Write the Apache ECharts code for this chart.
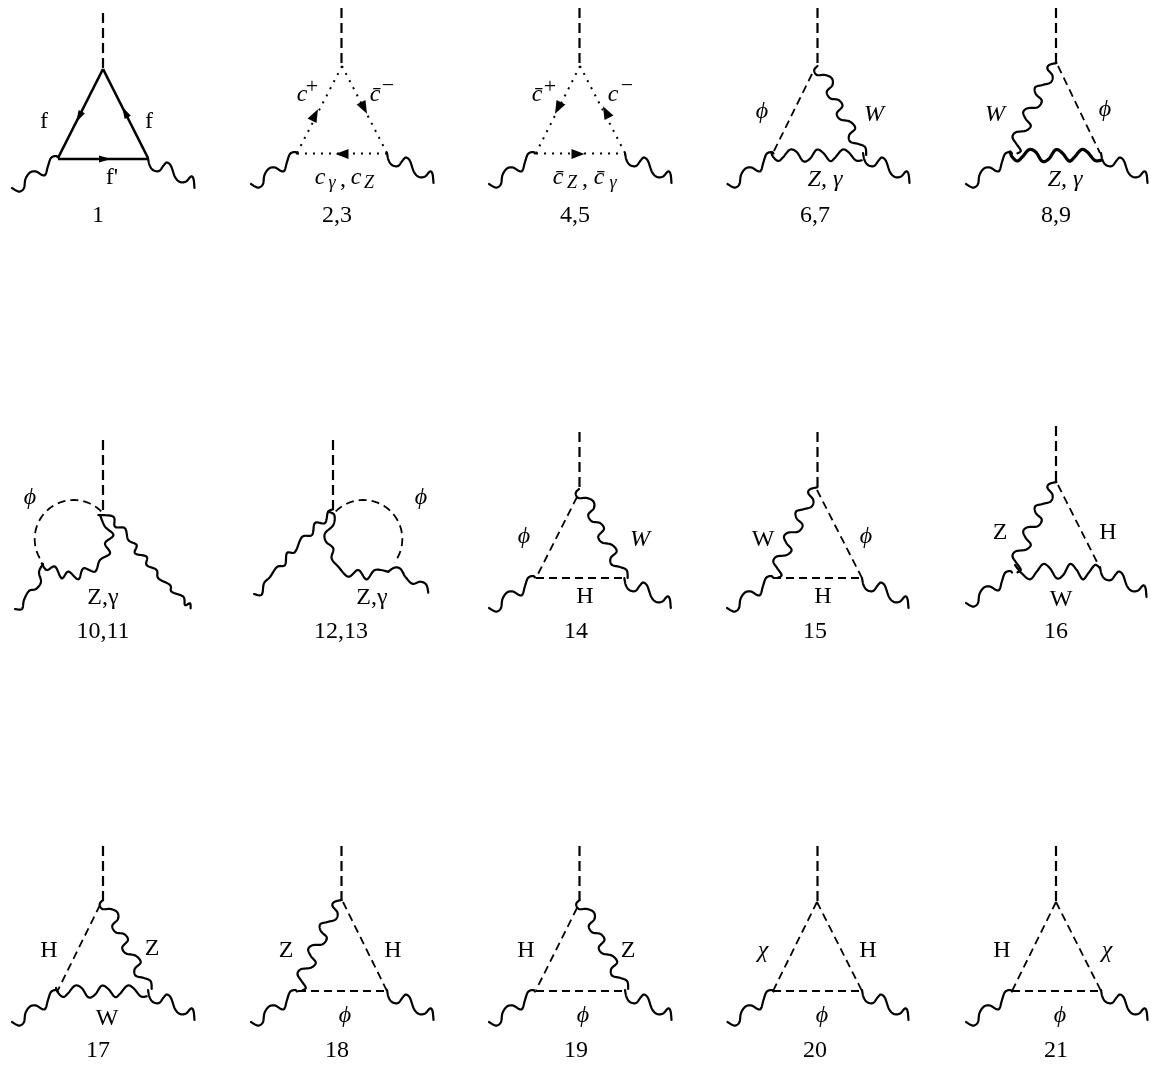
<!DOCTYPE html>
<html><head><meta charset="utf-8">
<style>html,body{margin:0;padding:0;background:#fff}#c{width:1151px;height:1067px}</style>
<script src="https://cdn.jsdelivr.net/npm/echarts@6/dist/echarts.min.js"></script>
</head><body><div id="c"></div>
<script>
// Every list is in the picture's own coordinates: x 0..1151, y 0..1067 downward
const scalarLegs = [[103,13,103,68],[341.5,8,341.5,64],[579.5,8,579.5,64],[817.5,8,817.5,64],[1056,8,1056,64],
  [103,440,103,512],[333,440,333,512],[579.5,432,579.5,489],[817.5,432,817.5,489],[1056,426,1056,483],
  [103,846,103,901],[341.5,846,341.5,901],[579.5,846,579.5,901],[817.5,846,817.5,901],[1056,846,1056,901]];
const solidLines = [[103,69,58,158],[103,69,148,158],[58,159,148,159]];
const dottedLines = [[342,66,297,153],[342,66,387,153],[297,153.5,387,153.5],[580,66,536,153],[580,66,625,153],[536,153.5,625,153.5]];
const dashedLines = [[812,74,773,153],[1058,66,1100,153],
  [577,497,536,578],[536,578,625,578],[817,490,862,578],[773,578,862,578],[1058,485,1097,562],
  [100,905,58,990],[343,902,387,991],[298,991,387,991],[577,908,536,990],[536,991,625,991],
  [817,902,773,991],[817,902,862,991],[773,991,862,991],[1056,902,1012,991],[1056,902,1101,991],[1012,991,1101,991]];

// Photon outlines, relative to where each one starts
const leftLegShape = [[0,0],[4,2.5],[8,3.5],[12,0],[13.5,-9],[18,-15.5],[24,-16.5],[30,-13],[33.5,-13.5],[36,-22],[39,-30],[44,-32],[46,-30.5]];
const rightLegShape = [[0,0],[1.5,7],[5,12],[11,13],[16,7],[19,4.5],[23,8],[27,19],[32,24],[38,23.5],[43,18.5],[45.5,21],[46.5,30]];
const apexRightShape = [[0,0],[-3.3,4],[-.7,9],[7.7,9],[14.3,12.3],[15,19],[9.3,25.7],[12.7,32.3],[21,34],[25,40],[19.3,47.3],[22.7,53.3],[32.7,55.7],[37.7,62.3],[31.7,69],[32.7,75.7],[41,78],[47.7,81.3],[48.7,89]];
const apexLeftShape = [[0,0],[-7.3,2],[-9,6],[-4,12.7],[-5.7,19.3],[-14,22],[-21.3,24.3],[-20.7,31],[-14.7,37.7],[-19,44.3],[-29,45.3],[-33.3,49.3],[-30.7,56],[-25.7,62.7],[-30.7,67.7],[-40.7,69.3],[-44,74.3],[-40,81],[-35.7,87.7],[-39,90.3]];
const bottomShape = [[0,0],[2.3,5],[7.3,9],[12.3,5],[19,-2.3],[25.7,0],[32.3,9.3],[39,6.7],[45.7,-2.3],[52.3,1],[59,9],[64,5.7],[71.3,-2.3],[77.3,0],[84.7,8.3],[90.7,8.3]];
const bottomShape16 = [[0,0],[6.7,8.3],[15,14.3],[21.7,6.7],[28.3,-1],[35,3.3],[41.7,13.3],[48.3,10],[55,-1],[61.7,5],[67.7,14.3],[73.3,8.3],[80,0],[85,3.3]];
const loopLeftLeg10 = [[0,0],[7,0],[9,-9],[14,-18],[21,-20],[26,-27],[24,-37],[28,-45]];
const loopArc10 = [[0,0],[5,6.7],[13.3,3.3],[20,15],[26.7,8.3],[36.7,16],[41.7,5],[53.3,8.3],[58.3,-3.3],[68.3,-10],[63.3,-20],[71.7,-28.3],[63.3,-36.7],[58.3,-48.3]];
const loopRightLeg10 = [[0,0],[15,1.7],[16.7,11.7],[26.7,13.3],[30,25],[38.3,30],[36.7,38.3],[48.3,41.7],[48.3,50],[58.3,55],[60,63.3],[71.7,70],[73.3,76.7],[85,81.7],[86.7,90],[91.7,88.3],[92.3,93.3]];
const loopLeftLeg12 = [[0,0],[7.7,.7],[10,-10.7],[16,-17],[23,-27],[31,-29],[33,-41],[41,-42],[48,-57],[58,-59],[61,-71],[71,-71],[74,-82],[79,-84.7]];
const loopArc12 = [[0,0],[6,3.3],[5,13.3],[-3.3,21.7],[-2.3,30],[5,36.7],[3.3,46.7],[10,55],[20,65],[30,58.3],[38.3,67.7],[46.7,58.3],[60,60]];
const loopRightLeg12 = [[0,0],[6,-4],[12,-3],[17,5],[24,12],[32,10],[38,13],[40,21]];

// Where each outline starts
const leftLegStarts = [[12,188],[251,184],[489,184],[727.5,184],[966,184],[489,608],[727,608],[966,603],[12,1022],[251,1022],[489,1022],[727.5,1022],[966,1022]];
const rightLegStarts = [[148,158],[387,153],[625,153],[863,153],[1101,153],[624.3,578],[862,578],[1100,567],[148,990],[387,990],[625,990],[862,990],[1101,990]];
const apexRightStarts = [[817.5,66],[579,489],[103,900],[579.5,900]];
const apexLeftStarts = [[1056.5,63],[817.3,487.3],[1056.5,482],[341.5,900]];
const bottomStarts = [[771,152],[56,988]];
const heavyBottomStarts = [[1010,152]];
const bottom16Starts = [[1015,565]];
const loopLeftLeg10Starts = [[15,609]];
const loopArc10Starts = [[41.7,563.3]];
const loopRightLeg10Starts = [[98.3,515]];
const loopLeftLeg12Starts = [[254,594]];
const loopArc12Starts = [[328.3,511.7]];
const loopRightLeg12Starts = [[388.3,571.7]];

// cx,cy,r,startDeg,endDeg
const dashedArcs = [[73.7,539,39,-45,-217],[363.3,539,39,-135,37]];
// x,y,dirX,dirY
const fermionArrows = [[79,117,-.46,.89],[125,112,-.46,-.89],[105,159,1,0]];
const ghostArrows = [[315,115,.46,-.89],[364,108,.46,.89],[342,154,-1,0],[558,108,-.46,.89],[606,112,-.46,-.89],[578,154,1,0]];
// x,y,text,kind: n number, r roman, i italic, s small italic, u upright superscript
const labels = [
  [98,216,'1','n'],[337,216,'2,3','n'],[575,216,'4,5','n'],[815,216,'6,7','n'],[1056,216,'8,9','n'],
  [103,632,'10,11','n'],[341,632,'12,13','n'],[576,632,'14','n'],[815,632,'15','n'],[1056,632,'16','n'],
  [98,1051,'17','n'],[337,1051,'18','n'],[576,1051,'19','n'],[815,1051,'20','n'],[1056,1051,'21','n'],
  [44,122,'f','r'],[149,122,'f','r'],[112,178,"f'",'r'],
  [302,95,'c','i'],[312,87,'+','u'],[375,95,'c\u0304','i'],[388,86,'\u2212','u'],
  [320,178,'c','i'],[332,183,'\u03b3','s'],[343,180,',','r'],[356,178,'c','i'],[369,183,'Z','s'],
  [537,95,'c\u0304','i'],[550,87,'+','u'],[613,95,'c','i'],[627,86,'\u2212','u'],
  [558,178,'c\u0304','i'],[572,183,'Z','s'],[585,180,',','r'],[599,178,'c\u0304','i'],[613,183,'\u03b3','s'],
  [762,112,'\u03d5','i'],[874,115,'W','i'],[825,180,'Z, \u03b3','i'],
  [995,115,'W','i'],[1105,110,'\u03d5','i'],[1065,180,'Z, \u03b3','i'],
  [30,498,'\u03d5','i'],[103,598,'Z,\u03b3','r'],[421,498,'\u03d5','i'],[372,598,'Z,\u03b3','r'],
  [524,537,'\u03d5','i'],[640,540,'W','i'],[585,597,'H','r'],
  [763,540,'W','r'],[866,537,'\u03d5','i'],[823,597,'H','r'],
  [1000,533,'Z','r'],[1108,533,'H','r'],[1061,600,'W','r'],
  [49,951,'H','r'],[152,949,'Z','r'],[107,1019,'W','r'],
  [286,951,'Z','r'],[393,951,'H','r'],[345,1016,'\u03d5','i'],
  [526,951,'H','r'],[628,951,'Z','r'],[583,1016,'\u03d5','i'],
  [763,951,'\u03c7','i'],[868,951,'H','r'],[822,1016,'\u03d5','i'],
  [1002,951,'H','r'],[1107,951,'\u03c7','i'],[1060,1016,'\u03d5','i']];

const FONT = '"Liberation Serif"';
const kinds = {
  n:{font:`24px ${FONT}`},
  r:{font:`24px ${FONT}`},
  i:{font:`italic 24px ${FONT}`},
  s:{font:`italic 18px ${FONT}`},
  u:{font:`22px ${FONT}`}
};

function lineSeries(data, width, dash){
  return {type:'custom',coordinateSystem:'cartesian2d',clip:false,silent:true,data,
    renderItem:(p,api)=>{
      const d=data[p.dataIndex],a=api.coord([d[0],d[1]]),b=api.coord([d[2],d[3]]);
      return {type:'line',shape:{x1:a[0],y1:a[1],x2:b[0],y2:b[1]},
        style:{stroke:'#000',fill:null,lineWidth:width,lineDash:dash||null}};
    }};
}
function poly(api,pts,width,dash){
  return {type:'polyline',shape:{points:pts.map(q=>api.coord(q))},
    style:{stroke:'#000',fill:null,lineWidth:width,lineDash:dash||null,lineJoin:'round',lineCap:dash?'butt':'round'}};
}
// Rounds a hand-read outline into a curve that passes through every read point
function rounded(shape){
  const out=[];
  for(let i=0;i<shape.length-1;i++){
    const a=shape[Math.max(i-1,0)],b=shape[i],c=shape[i+1],d=shape[Math.min(i+2,shape.length-1)];
    for(let k=0;k<12;k++){
      const t=k/12,t2=t*t,t3=t2*t;
      out.push([0,1].map(j=>.5*(2*b[j]+(c[j]-a[j])*t+(2*a[j]-5*b[j]+4*c[j]-d[j])*t2+(3*b[j]-a[j]-3*c[j]+d[j])*t3)));
    }
  }
  out.push(shape[shape.length-1]);
  return out;
}
function waveSeries(shape,starts,width){
  const curve=rounded(shape);
  return {type:'custom',coordinateSystem:'cartesian2d',clip:false,silent:true,data:starts,
    renderItem:(p,api)=>{
      const [x,y]=starts[p.dataIndex];
      return poly(api,curve.map(q=>[x+q[0],y+q[1]]),width);
    }};
}
function arcSeries(data,width,dash){
  return {type:'custom',coordinateSystem:'cartesian2d',clip:false,silent:true,data,
    renderItem:(p,api)=>{
      const [cx,cy,r,a0,a1]=data[p.dataIndex],pts=[];
      for(let i=0;i<=200;i++){
        const a=(a0+(a1-a0)*i/200)*Math.PI/180;
        pts.push([cx+r*Math.cos(a),cy+r*Math.sin(a)]);
      }
      return poly(api,pts,width,dash);
    }};
}
function arrowSeries(data,len,wid){
  return {type:'custom',coordinateSystem:'cartesian2d',clip:false,silent:true,data,
    renderItem:(p,api)=>{
      const [x,y,ux,uy]=data[p.dataIndex];
      const pts=[[x+ux*len/2,y+uy*len/2],[x-ux*len/2-uy*wid/2,y-uy*len/2+ux*wid/2],[x-ux*len/2+uy*wid/2,y-uy*len/2-ux*wid/2]];
      return {type:'polygon',shape:{points:pts.map(q=>api.coord(q))},style:{fill:'#000',stroke:null}};
    }};
}
const textSeries={type:'custom',coordinateSystem:'cartesian2d',clip:false,silent:true,data:labels,
  renderItem:(p,api)=>{
    const [x,y,text,k]=labels[p.dataIndex],c=api.coord([x,y]);
    return {type:'text',x:c[0],y:c[1],style:{text,font:kinds[k].font,fill:'#000',align:'center',verticalAlign:'middle'}};
  }};

const chart=echarts.init(document.getElementById('c'),null,{renderer:'canvas'});
chart.setOption({
  animation:false,
  backgroundColor:'#fff',
  grid:{left:0,right:0,top:0,bottom:0},
  xAxis:{type:'value',min:0,max:1151,show:false},
  yAxis:{type:'value',min:0,max:1067,inverse:true,show:false},
  series:[
    lineSeries(scalarLegs,2.2,[10,5]),
    lineSeries(solidLines,2.6),
    lineSeries(dottedLines,2,[2,6]),
    lineSeries(dashedLines,1.8,[8,5]),
    waveSeries(leftLegShape,leftLegStarts,2.2),
    waveSeries(rightLegShape,rightLegStarts,2.2),
    waveSeries(apexRightShape,apexRightStarts,2.2),
    waveSeries(apexLeftShape,apexLeftStarts,2.2),
    waveSeries(bottomShape,bottomStarts,2.2),
    waveSeries(bottomShape,heavyBottomStarts,3.2),
    waveSeries(bottomShape16,bottom16Starts,2.2),
    waveSeries(loopLeftLeg10,loopLeftLeg10Starts,2.2),
    waveSeries(loopArc10,loopArc10Starts,2.2),
    waveSeries(loopRightLeg10,loopRightLeg10Starts,2.2),
    waveSeries(loopLeftLeg12,loopLeftLeg12Starts,2.2),
    waveSeries(loopArc12,loopArc12Starts,2.2),
    waveSeries(loopRightLeg12,loopRightLeg12Starts,2.2),
    arcSeries(dashedArcs,1.8,[8,5]),
    arrowSeries(fermionArrows,12,7),
    arrowSeries(ghostArrows,13,10),
    textSeries
  ]
});
</script></body></html>
